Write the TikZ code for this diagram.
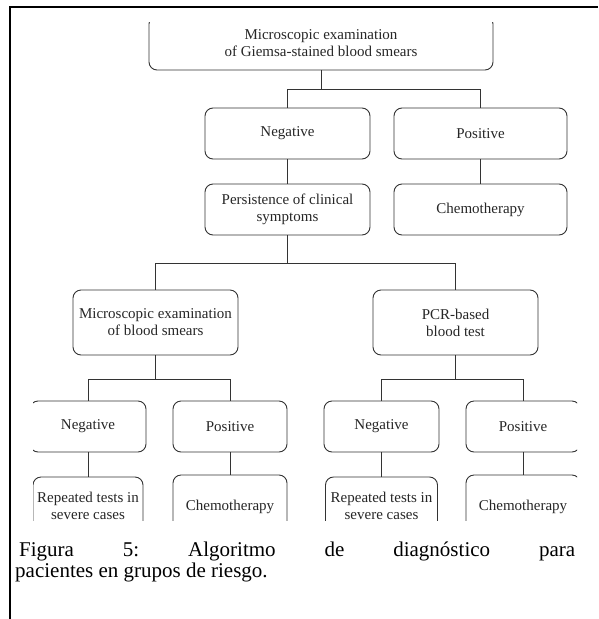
\documentclass[tikz,border=0pt]{standalone}
\usepackage{fontspec}
\setmainfont{Liberation Serif}
\begin{document}
\begin{tikzpicture}[x=1pt,y=-1pt,
  box/.style={draw=black!80, line width=0.9pt, rounded corners=8pt, align=center,
    inner sep=0pt, text=black!85, font=\fontsize{15}{16.8}\selectfont},
  conn/.style={draw=black!80, line width=1pt},
  frameline/.style={draw=black, line width=1.6pt},
  captext/.style={inner sep=0pt, anchor=base west, font=\fontsize{21}{23}\selectfont}]
\useasboundingbox (0,0) rectangle (598,619);
\draw[frameline] (10,619) -- (10,7) -- (598,7);
\begin{scope}
\clip (33,22) rectangle (577,520);
\node[box, minimum width=344pt, minimum height=54pt] (top) at (321,43) {Microscopic examination\\of Giemsa-stained blood smears};
\node[box, minimum width=165pt, minimum height=51pt] (neg1) at (287.5,133.5) {Negative};
\node[box, minimum width=173pt, minimum height=51pt] (pos1) at (480.5,133.5) {Positive};
\node[box, minimum width=165pt, minimum height=51pt] (pers) at (287.5,209.5) {Persistence of clinical\\symptoms};
\node[box, minimum width=173pt, minimum height=51pt] (chemo1) at (480.5,209.5) {Chemotherapy};
\node[box, minimum width=165pt, minimum height=65pt] (micro) at (155.5,322.5) {Microscopic examination\\of blood smears};
\node[box, minimum width=165pt, minimum height=65pt] (pcr) at (455.5,322.5) {PCR-based\\blood test};
\node[box, minimum width=116pt, minimum height=51pt] (neg2) at (88,426.5) {Negative};
\node[box, minimum width=114pt, minimum height=51pt] (pos2) at (230,426.5) {Positive};
\node[box, minimum width=115pt, minimum height=51pt] (neg3) at (381.5,426.5) {Negative};
\node[box, minimum width=114pt, minimum height=51pt] (pos3) at (523,426.5) {Positive};
\node[box, minimum width=110pt, minimum height=58pt] (rep2) at (88,506) {Repeated tests in\\severe cases};
\node[box, minimum width=114pt, minimum height=64pt] (chemo2) at (230,507) {Chemotherapy};
\node[box, minimum width=112pt, minimum height=58pt] (rep3) at (381.5,506) {Repeated tests in\\severe cases};
\node[box, minimum width=114pt, minimum height=64pt] (chemo3) at (523,507) {Chemotherapy};
\end{scope}
\draw[conn] (top.south) -- ++(0,19) -| (neg1.north);
\draw[conn] (top.south) -- ++(0,19) -| (pos1.north);
\draw[conn] (neg1.south) -- (pers.north);
\draw[conn] (pos1.south) -- (chemo1.north);
\draw[conn] (pers.south) -- ++(0,28) -| (micro.north);
\draw[conn] (pers.south) -- ++(0,28) -| (pcr.north);
\draw[conn] (micro.south) -- ++(0,24) -| (neg2.north);
\draw[conn] (micro.south) -- ++(0,24) -| (pos2.north);
\draw[conn] (pcr.south) -- ++(0,24) -| (neg3.north);
\draw[conn] (pcr.south) -- ++(0,24) -| (pos3.north);
\draw[conn] (neg2.south) -- (rep2.north);
\draw[conn] (pos2.south) -- (chemo2.north);
\draw[conn] (neg3.south) -- (rep3.north);
\draw[conn] (pos3.south) -- (chemo3.north);
\node[captext] (cap1) at (19,556) {\hbox to 556pt{Figura\hfill 5:\hfill Algoritmo\hfill de\hfill diagnóstico\hfill para}};
\node[captext] (cap2) at (15,577) {pacientes en grupos de riesgo.};
\end{tikzpicture}
\end{document}
